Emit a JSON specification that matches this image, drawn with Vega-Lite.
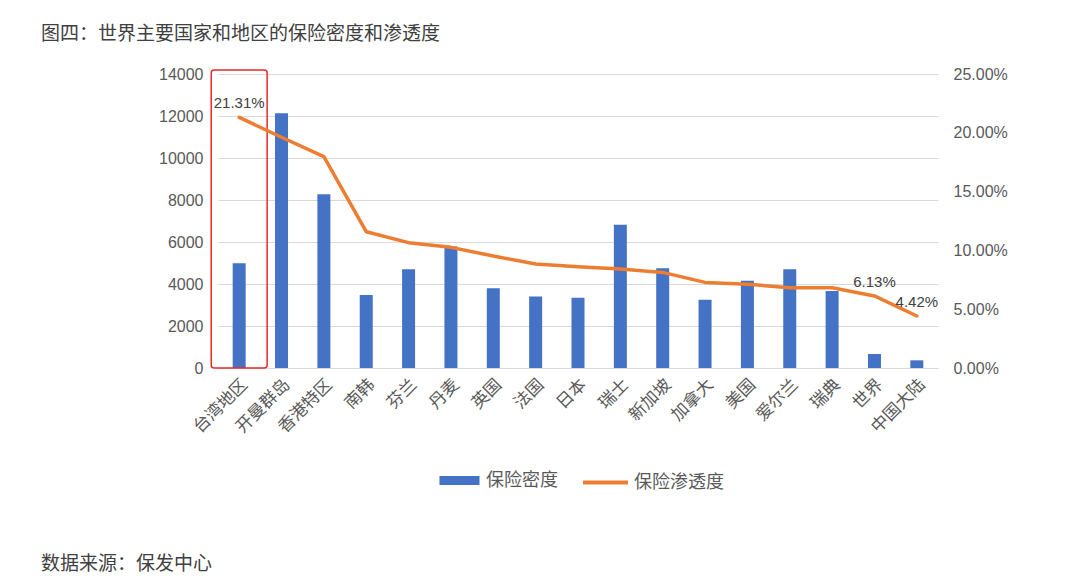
{
  "$schema": "https://vega.github.io/schema/vega-lite/v6.json",
  "background": "white",
  "padding": {"left": 41, "top": 25, "right": 5, "bottom": 5},
  "title": {"text": "数据来源：保发中心", "orient": "bottom", "anchor": "start", "frame": "bounds", "offset": 63, "fontSize": 19, "fontWeight": "normal", "font": "Noto Sans CJK SC", "color": "#404040"},
  "config": {
    "view": {"stroke": null},
    "axis": {"labelColor": "#595959", "ticks": false, "domain": false, "gridColor": "#d9d9d9", "labelFont": "Liberation Sans", "labelFontSize": 16, "title": null},
    "legend": {"orient": "none", "labelFontSize": 18, "labelFont": "Noto Sans CJK SC", "labelColor": "#595959"}
  },
  "vconcat": [
    {
      "width": 720,
      "height": 294,
      "title": {"text": "图四：世界主要国家和地区的保险密度和渗透度", "anchor": "start", "frame": "group", "dx": -177, "offset": 22, "fontSize": 19, "fontWeight": "normal", "font": "Noto Sans CJK SC", "color": "#404040"},
      "data": {"values": [
        {"region": "台湾地区", "density": 4985, "penetration": 0.2131},
        {"region": "开曼群岛", "density": 12130, "penetration": 0.1962},
        {"region": "香港特区", "density": 8270, "penetration": 0.1797},
        {"region": "南韩", "density": 3480, "penetration": 0.1159},
        {"region": "芬兰", "density": 4700, "penetration": 0.1066},
        {"region": "丹麦", "density": 5780, "penetration": 0.1026},
        {"region": "英国", "density": 3795, "penetration": 0.0952},
        {"region": "法国", "density": 3400, "penetration": 0.0884},
        {"region": "日本", "density": 3350, "penetration": 0.0862},
        {"region": "瑞士", "density": 6825, "penetration": 0.0842},
        {"region": "新加坡", "density": 4745, "penetration": 0.0813},
        {"region": "加拿大", "density": 3255, "penetration": 0.0728},
        {"region": "美国", "density": 4160, "penetration": 0.0712},
        {"region": "爱尔兰", "density": 4700, "penetration": 0.0683},
        {"region": "瑞典", "density": 3665, "penetration": 0.0683},
        {"region": "世界", "density": 665, "penetration": 0.0613},
        {"region": "中国大陆", "density": 365, "penetration": 0.0442}
      ]},
      "encoding": {
        "x": {"field": "region", "type": "nominal", "sort": null, "scale": {"paddingInner": 0, "paddingOuter": 0},
          "axis": {"labelAngle": -45, "labelFont": "Noto Sans CJK SC", "labelFontSize": 17, "labelPadding": 8, "domain": true, "domainColor": "#d9d9d9"}}
      },
      "layer": [
        {
          "layer": [
            {
              "mark": {"type": "bar", "size": 13},
              "encoding": {
                "y": {"field": "density", "type": "quantitative", "scale": {"domain": [0, 14000], "nice": false},
                  "axis": {"values": [0, 2000, 4000, 6000, 8000, 10000, 12000, 14000], "format": "d", "grid": true, "labelPadding": 15}},
                "fill": {"datum": "保险密度", "scale": {"range": ["#4472C4"]},
                  "legend": {"title": null, "symbolType": "M-0.89,-0.2H0.89V0.2H-0.89Z", "symbolSize": 2025, "symbolStrokeWidth": 0, "legendX": 219, "legendY": 384}}
              }
            },
            {
              "transform": [{"filter": "datum.region === '台湾地区'"}],
              "mark": {"type": "bar", "width": {"band": 1.32}, "fill": "transparent", "stroke": "#E8282B", "strokeWidth": 1.5, "cornerRadius": 3},
              "encoding": {
                "y": {"datum": 14190, "type": "quantitative",
                  "axis": {"values": [0, 2000, 4000, 6000, 8000, 10000, 12000, 14000], "format": "d", "grid": true, "labelPadding": 15}},
                "y2": {"datum": 0}
              }
            }
          ]
        },
        {
          "encoding": {
            "y": {"field": "penetration", "type": "quantitative", "scale": {"domain": [0, 0.25], "nice": false},
              "axis": {"orient": "right", "values": [0, 0.05, 0.1, 0.15, 0.2, 0.25], "format": ".2%", "grid": false, "labelPadding": 15}}
          },
          "layer": [
            {
              "mark": {"type": "line", "strokeWidth": 3.5, "strokeCap": "round", "strokeJoin": "round"},
              "encoding": {
                "stroke": {"datum": "保险渗透度", "scale": {"range": ["#ED7D31"]},
                  "legend": {"title": null, "symbolType": "stroke", "symbolSize": 2025, "symbolStrokeWidth": 4, "legendX": 363, "legendY": 384}}
              }
            },
            {
              "transform": [{"filter": {"field": "region", "oneOf": ["台湾地区", "世界", "中国大陆"]}}],
              "mark": {"type": "text", "dy": -14, "fontSize": 15, "font": "Liberation Sans", "color": "#404040"},
              "encoding": {"text": {"field": "penetration", "type": "quantitative", "format": ".2%"}}
            }
          ]
        }
      ],
      "resolve": {"scale": {"y": "independent"}}
    }
  ]
}
